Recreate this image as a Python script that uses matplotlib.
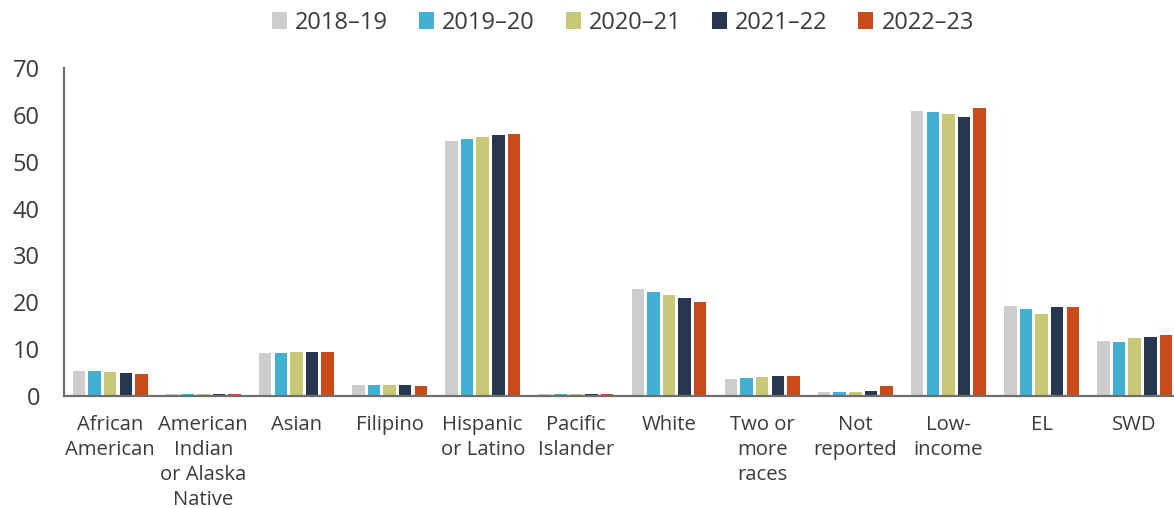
import matplotlib
matplotlib.use("Agg")
import matplotlib.pyplot as plt
import numpy as np

plt.rcParams['font.family'] = ['Open Sans', 'DejaVu Sans']

categories = ["African\nAmerican", "American\nIndian\nor Alaska\nNative", "Asian", "Filipino",
              "Hispanic\nor Latino", "Pacific\nIslander", "White", "Two or\nmore\nraces",
              "Not\nreported", "Low-\nincome", "EL", "SWD"]
years = ["2018–19", "2019–20", "2020–21", "2021–22", "2022–23"]

v2018_19 = [5.3, 0.5, 9.2, 2.3, 54.5, 0.4, 22.8, 3.6, 0.9, 60.8, 19.2, 11.7]
v2019_20 = [5.3, 0.5, 9.2, 2.3, 54.8, 0.4, 22.3, 3.8, 0.9, 60.6, 18.6, 11.6]
v2020_21 = [5.1, 0.5, 9.4, 2.3, 55.2, 0.4, 21.6, 4.1, 0.9, 60.2, 17.6, 12.4]
v2021_22 = [5.0, 0.5, 9.4, 2.3, 55.8, 0.4, 21.0, 4.2, 1.0, 59.5, 19.1, 12.6]
v2022_23 = [4.6, 0.4, 9.4, 2.1, 56.0, 0.4, 20.0, 4.2, 2.1, 61.4, 19.0, 13.0]

series = [v2018_19, v2019_20, v2020_21, v2021_22, v2022_23]
colors = ["#CDCDCD", "#42B0D1", "#C9C878", "#27374F", "#C94B1A"]
text_color = "#3A3A3A"
spine_color = "#6E6E6E"

W, H = 1174, 508
fig = plt.figure(figsize=(W / 100, H / 100), dpi=100)
ax_left, ax_bottom = 63.6 / W, (H - 396) / H
ax = fig.add_axes([ax_left, ax_bottom, 1 - ax_left, (396 - 68) / H])

x = np.arange(len(categories))
step = 0.1675
for i, (vals, col, lab) in enumerate(zip(series, colors, years)):
    ax.bar(x + (i - 2) * step, vals, width=0.134, color=col, label=lab, linewidth=0)

ax.set_ylim(0, 70)
ax.set_xlim(-0.5, 11 + (1174 - 1134.7) / 93.14)
ax.set_yticks(range(0, 71, 10))
ax.set_xticks(x)
ax.set_xticklabels(categories, fontsize=14.6, color=text_color, linespacing=1.33, va="top")
ax.tick_params(axis="y", length=0, pad=17, labelsize=17, labelcolor=text_color)
ax.tick_params(axis="x", length=0, pad=14)

for s in ["top", "right"]:
    ax.spines[s].set_visible(False)
for s in ["left", "bottom"]:
    ax.spines[s].set_color(spine_color)
    ax.spines[s].set_linewidth(1.6)
ax.set_axisbelow(False)

leg = fig.legend(loc="center", bbox_to_anchor=(623 / W, 1 - 23 / H), ncol=5, frameon=False,
                 fontsize=17, handlelength=0.64, handleheight=0.72, handletextpad=0.34,
                 columnspacing=1.3, borderaxespad=0)
for t in leg.get_texts():
    t.set_color(text_color)

fig.savefig("out.png", dpi=100)
